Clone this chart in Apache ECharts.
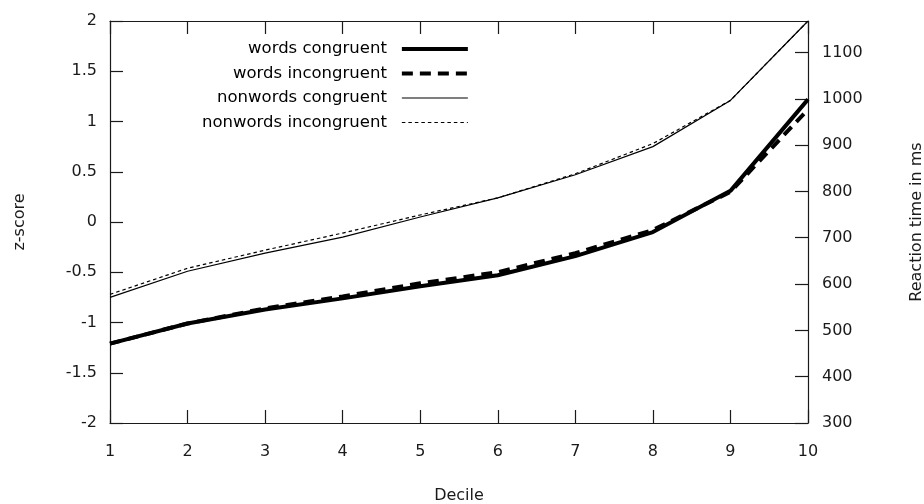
<!DOCTYPE html>
<html>
<head>
<meta charset="utf-8">
<script src="https://cdn.jsdelivr.net/npm/echarts@6/dist/echarts.min.js"></script>
<style>
  html, body { margin: 0; padding: 0; background: #fff; }
  #chart { width: 924px; height: 504px; }
</style>
</head>
<body>
<div id="chart"></div>
<script>
// Reaction-time distributions by decile, expressed as z-scores
const deciles = [1, 2, 3, 4, 5, 6, 7, 8, 9, 10];
const wordsCongruent      = [-1.21, -1.01, -0.87, -0.76, -0.64, -0.53, -0.34, -0.10, 0.31, 1.22];
const wordsIncongruent    = [-1.21, -1.01, -0.86, -0.74, -0.61, -0.50, -0.31, -0.08, 0.30, 1.12];
const nonwordsCongruent   = [-0.75, -0.49, -0.31, -0.15, 0.05, 0.24, 0.47, 0.75, 1.21, 2.00];
const nonwordsIncongruent = [-0.72, -0.46, -0.28, -0.11, 0.07, 0.24, 0.48, 0.78, 1.21, 2.00];

const seriesNames = ['words congruent', 'words incongruent', 'nonwords congruent', 'nonwords incongruent'];

const FONT = 'DejaVu Sans';
const INK = '#1a1a1a';
const TICK_FONT = 16;

// stroke width and dash pattern for each series, shared by plot and legend
const strokes = [
  { width: 4, type: 'solid' },
  { width: 4, type: [11, 7] },
  { width: 1.2, type: 'solid' },
  { width: 1.2, type: [3.5, 3] }
];

function pairs(values) {
  return deciles.map((d, i) => [d, values[i]]);
}

function lineSeries(idx, values) {
  return {
    name: seriesNames[idx],
    type: 'line',
    xAxisIndex: 0,
    yAxisIndex: 0,
    data: pairs(values),
    symbol: 'none',
    silent: true,
    animation: false,
    itemStyle: { color: '#000' },
    lineStyle: { color: '#000', width: strokes[idx].width, type: strokes[idx].type }
  };
}

const axisLine = { show: true, onZero: false, lineStyle: { color: INK, width: 1.2 } };
const tick = { show: true, inside: true, length: 13, lineStyle: { color: INK, width: 1.2 } };

const chart = echarts.init(document.getElementById('chart'), null, { renderer: 'canvas' });
chart.setOption({
  backgroundColor: '#fff',
  animation: false,
  textStyle: { fontFamily: FONT },
  grid: { left: 110, right: 116, top: 21, bottom: 81, containLabel: false, outerBoundsMode: 'none' },
  legend: {
    orient: 'vertical',
    align: 'right',
    left: 197,
    top: 35,
    itemWidth: 66,
    itemHeight: 14,
    itemGap: 6.5,
    selectedMode: false,
    data: seriesNames.map((name, i) => ({
      name: name,
      itemStyle: { opacity: 0 },
      lineStyle: { color: '#000', width: strokes[i].width, type: strokes[i].type }
    })),
    textStyle: { fontFamily: FONT, fontSize: 16.5, lineHeight: 18, color: '#000', padding: [0, 10, 0, 0] }
  },
  xAxis: [
    {
      type: 'value', position: 'bottom', min: 1, max: 10, interval: 1,
      name: 'Decile', nameLocation: 'middle', nameGap: 65,
      nameTextStyle: { fontFamily: FONT, fontSize: TICK_FONT, color: INK },
      axisLine: axisLine, axisTick: tick,
      axisLabel: { margin: 21, fontFamily: FONT, fontSize: TICK_FONT, color: INK },
      splitLine: { show: false }
    },
    {
      type: 'value', position: 'top', min: 1, max: 10, interval: 1,
      axisLine: axisLine, axisTick: tick,
      axisLabel: { show: false },
      splitLine: { show: false }
    }
  ],
  yAxis: [
    {
      type: 'value', position: 'left', min: -2, max: 2, interval: 0.5,
      name: 'z-score', nameLocation: 'middle', nameGap: 82, nameRotate: 90,
      nameTextStyle: { fontFamily: FONT, fontSize: TICK_FONT, color: INK },
      axisLine: axisLine, axisTick: tick,
      axisLabel: { margin: 13, fontFamily: FONT, fontSize: TICK_FONT, color: INK },
      splitLine: { show: false }
    },
    {
      type: 'value', position: 'right', min: 300, max: 1168, interval: 100,
      name: 'Reaction time in ms', nameLocation: 'middle', nameGap: 101, nameRotate: 90,
      nameTextStyle: { fontFamily: FONT, fontSize: TICK_FONT, color: INK },
      axisLine: axisLine, axisTick: tick,
      axisLabel: {
        margin: 14, fontFamily: FONT, fontSize: TICK_FONT, color: INK, showMaxLabel: false,
        formatter: v => String(v)
      },
      splitLine: { show: false }
    }
  ],
  series: [
    lineSeries(0, wordsCongruent),
    lineSeries(1, wordsIncongruent),
    lineSeries(2, nonwordsCongruent),
    lineSeries(3, nonwordsIncongruent)
  ]
});
</script>
</body>
</html>
